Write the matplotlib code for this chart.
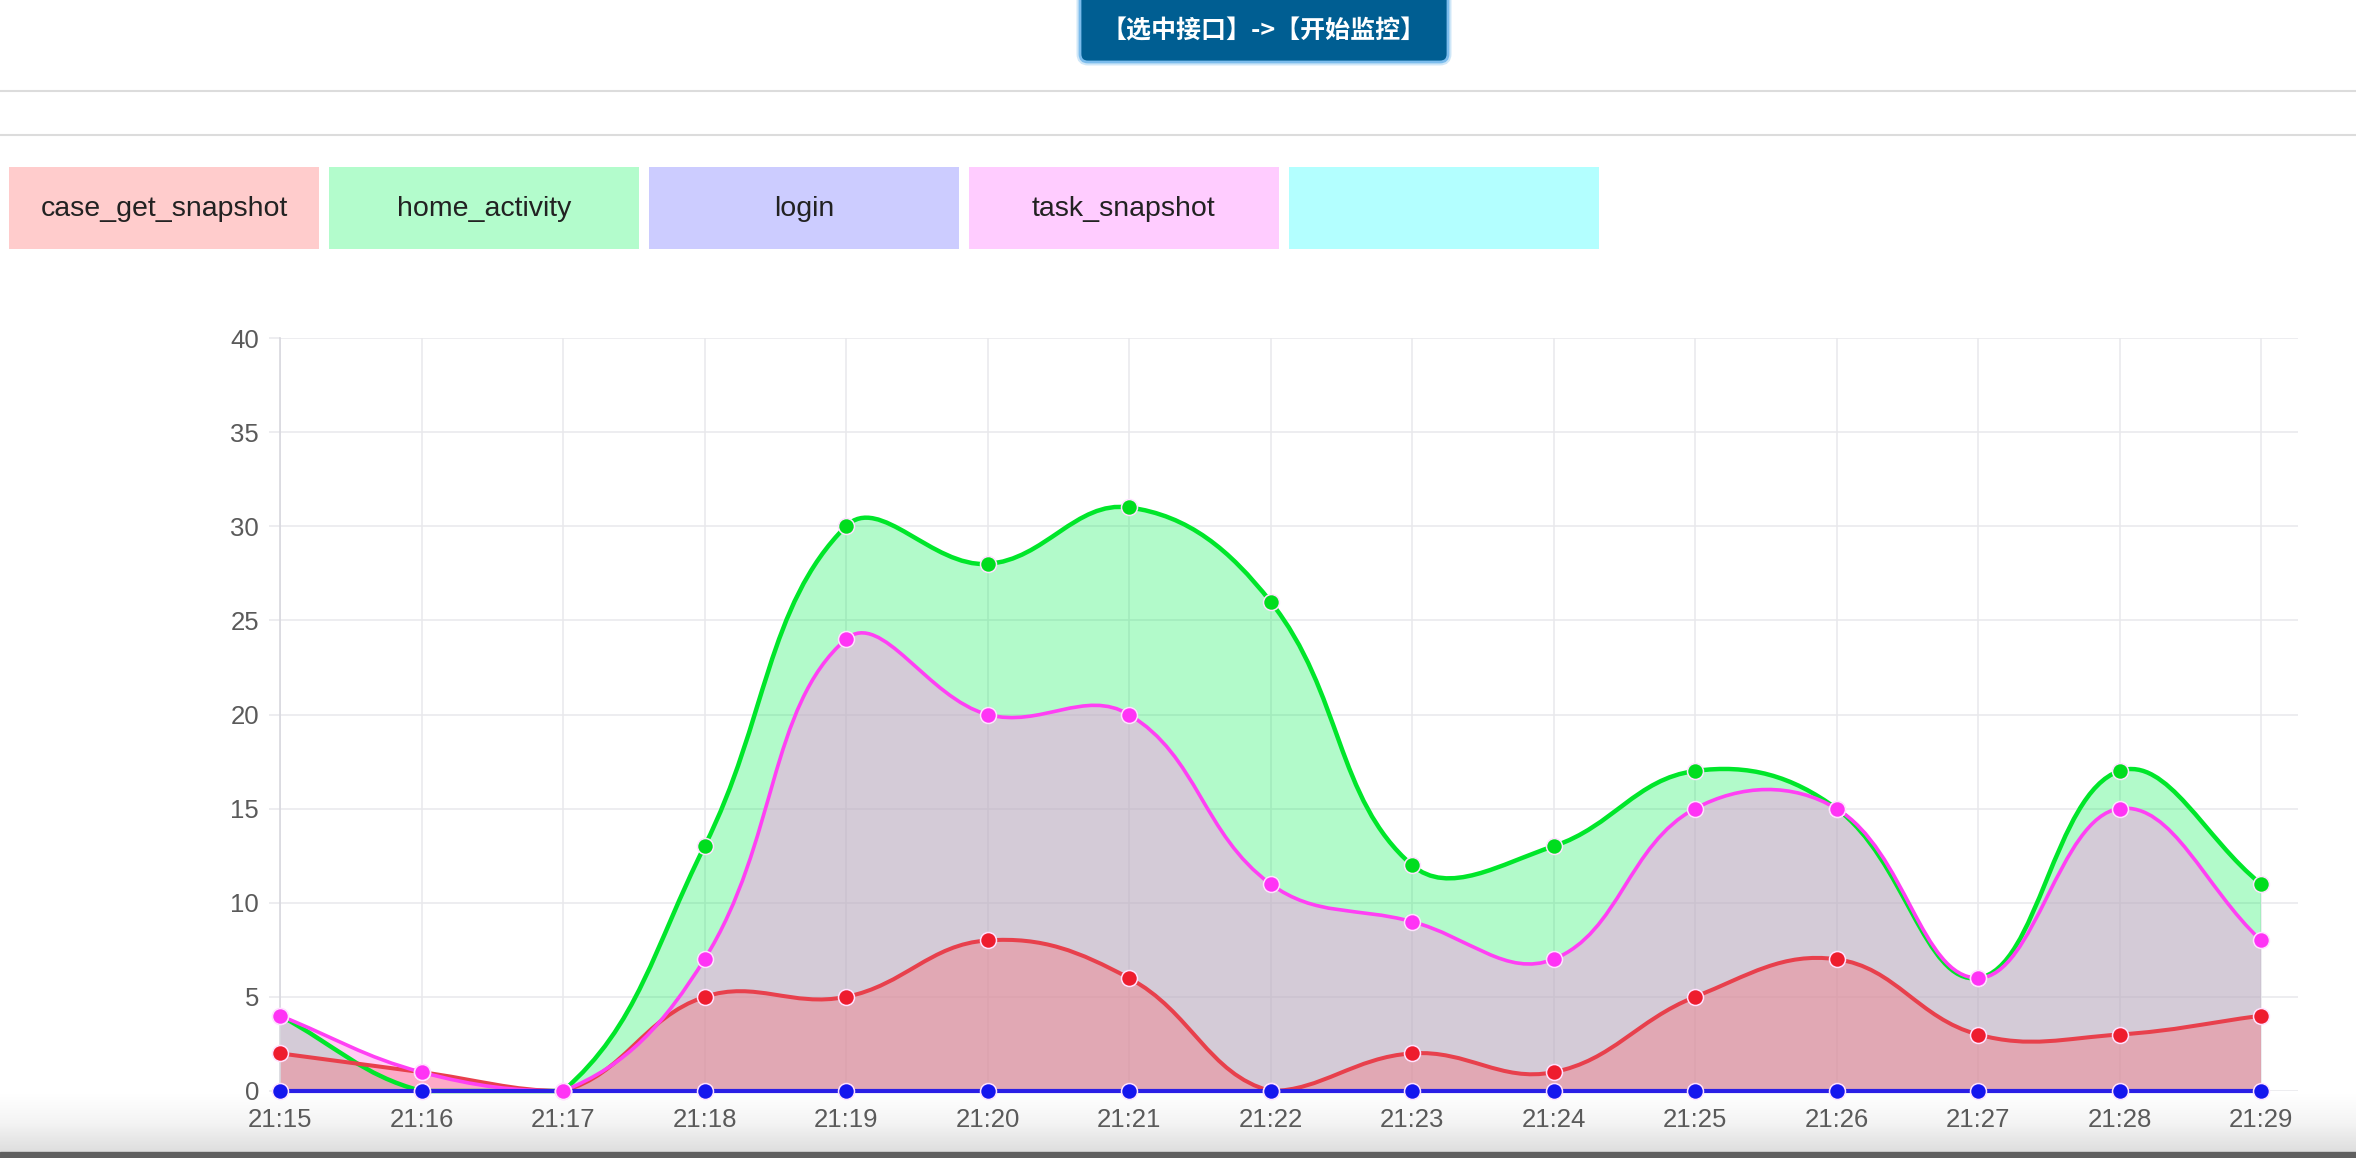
import numpy as np
import matplotlib
matplotlib.use('Agg')
import matplotlib.pyplot as plt
from matplotlib.path import Path
from matplotlib.patches import PathPatch, Rectangle, FancyBboxPatch
from matplotlib.colors import LinearSegmentedColormap

# data
times = ['21:15', '21:16', '21:17', '21:18', '21:19', '21:20', '21:21', '21:22',
         '21:23', '21:24', '21:25', '21:26', '21:27', '21:28', '21:29']
labels = ['case_get_snapshot', 'home_activity', 'login', 'task_snapshot', '']
case_get_snapshot = [2, 1, 0, 5, 5, 8, 6, 0, 2, 1, 5, 7, 3, 3, 4]
home_activity = [4, 0, 0, 13, 30, 28, 31, 26, 12, 13, 17, 15, 6, 17, 11]
login = [0, 0, 0, 0, 0, 0, 0, 0, 0, 0, 0, 0, 0, 0, 0]
task_snapshot = [4, 1, 0, 7, 24, 20, 20, 11, 9, 7, 15, 15, 6, 15, 8]
yticks = [0, 5, 10, 15, 20, 25, 30, 35, 40]
button_text = '【选中接口】->【开始监控】'

W, H = 2356, 1158
box_colors = ['#ffcccc', '#b3fccc', '#ccccff', '#ffccff', '#b3ffff']
textsize = 20.5
ticksize = 18.5
tickcolor = '#5a5a5a'
gridcolor = '#e8e8ec'


def spline_path(ax, xs, ys, tension=0.4):
    # chart.js style bezier through the points, control points capped to the plot area
    pts = ax.transData.transform(np.column_stack([xs, ys]).astype(float))
    n = len(pts)
    cprev = np.zeros_like(pts)
    cnext = np.zeros_like(pts)
    for i in range(n):
        prev = pts[i - 1] if i > 0 else pts[i]
        cur = pts[i]
        nxt = pts[i + 1] if i < n - 1 else pts[i]
        d01 = np.hypot(*(cur - prev))
        d12 = np.hypot(*(nxt - cur))
        tot = d01 + d12
        s01 = d01 / tot if tot else 0.
        s12 = d12 / tot if tot else 0.
        cprev[i] = cur - tension * s01 * (nxt - prev)
        cnext[i] = cur + tension * s12 * (nxt - prev)
    x0, y0, x1, y1 = ax.bbox.extents
    for c in (cprev, cnext):
        c[:, 0] = np.clip(c[:, 0], x0, x1)
        c[:, 1] = np.clip(c[:, 1], y0, y1)
    verts = [pts[0]]
    codes = [Path.MOVETO]
    for i in range(n - 1):
        verts += [cnext[i], cprev[i + 1], pts[i + 1]]
        codes += [Path.CURVE4] * 3
    verts = ax.transData.inverted().transform(np.array(verts))
    return verts, codes


fig = plt.figure(figsize=(W / 100., H / 100.), dpi=100, facecolor='white')

# page around the chart, in pixel coordinates
bg = fig.add_axes([0, 0, 1, 1], zorder=0)
bg.set_xlim(0, W)
bg.set_ylim(H, 0)
bg.axis('off')

shade = LinearSegmentedColormap.from_list('shade', ['#ffffff', '#f4f4f4', '#dedede'])
bg.imshow(np.linspace(0, 1, 64)[:, None], extent=[0, W, 1152, 1094], cmap=shade,
          aspect='auto', zorder=0)
bg.add_patch(Rectangle((0, 1152), W, 8, color='#5f5f5f', zorder=1))

for y in (91, 135):
    bg.plot([0, W], [y, y], color='#dcdcdc', lw=1.5)

bg.add_patch(FancyBboxPatch((1080, -12), 368, 74, boxstyle='round,pad=0,rounding_size=8',
                            facecolor='#005e92', edgecolor='#cfe7f8', lw=5, zorder=2))
bg.add_patch(FancyBboxPatch((1080, -12), 368, 74, boxstyle='round,pad=0,rounding_size=8',
                            facecolor='#005e92', edgecolor='#7cbcec', lw=2, zorder=3))
bg.text(1264, 31, button_text, color='white', fontsize=18, fontweight='bold',
        ha='center', va='center', family=['Noto Sans CJK SC', 'DejaVu Sans'], zorder=4)

for i, (lab, col) in enumerate(zip(labels, box_colors)):
    bx = 9 + i * 320
    bg.add_patch(Rectangle((bx, 167), 310, 82, facecolor=col, edgecolor='none'))
    bg.text(bx + 155, 209, lab, fontsize=textsize, color='#222222', ha='center',
            va='center', family='Liberation Sans')

# chart
left, right, top, bottom = 280, 2298, 338, 1091
ax = fig.add_axes([left / W, 1 - bottom / H, (right - left) / W, (bottom - top) / H], zorder=1)
ax.set_facecolor('none')
xs = np.arange(len(times))
ax.set_xlim(0, (right - left) / ((2261 - left) / 14.))
ax.set_ylim(0, 40)
ax.set_xticks(xs)
ax.set_xticklabels(times)
ax.set_yticks(yticks)
for s in ('top', 'right', 'bottom'):
    ax.spines[s].set_visible(False)
ax.spines['left'].set_color('#d8d8de')
ax.spines['left'].set_linewidth(1.2)
ax.grid(True, color=gridcolor, lw=1.1)
ax.set_axisbelow(True)
ax.tick_params(axis='y', length=8, width=1.1, color=gridcolor, pad=7,
               labelsize=ticksize, labelcolor=tickcolor)
ax.tick_params(axis='x', length=0, pad=12, labelsize=ticksize, labelcolor=tickcolor)
for lab in ax.get_xticklabels() + ax.get_yticklabels():
    lab.set_family('Liberation Sans')

series = {
    'home_activity': (home_activity, (0, 240 / 255., 80 / 255., 0.3), '#00e62a', 3.2, '#00dd1e'),
    'task_snapshot': (task_snapshot, (1., 147 / 255., 232 / 255., 0.45), '#ff40f4', 2.6, '#ff33f5'),
    'case_get_snapshot': (case_get_snapshot, (252 / 255., 105 / 255., 117 / 255., 0.35), '#e8404c', 2.9, '#ee1c2e'),
    'login': (login, None, '#2a1fe6', 3.0, '#1515ee'),
}

# fills first, then lines, then points
for name in ('home_activity', 'task_snapshot', 'case_get_snapshot'):
    vals, fillc, _, _, _ = series[name]
    verts, codes = spline_path(ax, xs, vals)
    verts = np.vstack([verts, [[xs[-1], 0], [xs[0], 0], [xs[0], 0]]])
    codes = codes + [Path.LINETO, Path.LINETO, Path.CLOSEPOLY]
    ax.add_patch(PathPatch(Path(verts, codes), facecolor=fillc, edgecolor='none', zorder=2))

for name in ('home_activity', 'case_get_snapshot', 'task_snapshot', 'login'):
    vals, _, linec, lw, _ = series[name]
    verts, codes = spline_path(ax, xs, vals)
    ax.add_patch(PathPatch(Path(verts, codes), facecolor='none', edgecolor=linec, lw=lw,
                           zorder=3, clip_on=False, capstyle='round'))

for name in ('case_get_snapshot', 'home_activity', 'login', 'task_snapshot'):
    vals, _, _, _, mc = series[name]
    ax.plot(xs, vals, 'o', ms=11.5, mfc=mc, mec='#ffe2ff', mew=1.1, zorder=4, clip_on=False)

fig.savefig('out.png', dpi=100)
